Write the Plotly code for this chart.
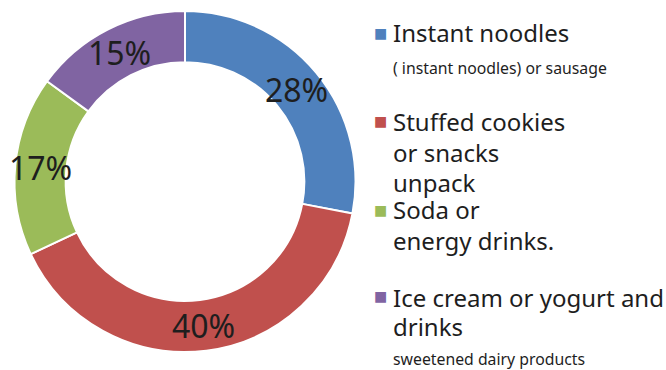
import math
import plotly.graph_objects as go

# ---- data ----
categories = ["Instant noodles", "Stuffed cookies or snacks unpack", "Soda or energy drinks.",
              "Ice cream or yogurt and drinks"]
values = [28, 40, 17, 15]
colors = ["#4F81BD", "#C0504D", "#9BBB59", "#8064A2"]
legend_main = [["Instant noodles"], ["Stuffed cookies", "or snacks", "unpack"],
               ["Soda or", "energy drinks."], ["Ice cream or yogurt and", "drinks"]]
legend_sub = ["( instant noodles) or sausage", None, None, "sweetened dairy products"]

W, H = 666, 370
cx, cy, R = 185.0, 181.5, 170.5
hole = 0.70
FONT = "Noto Sans"

fig = go.Figure()
fig.add_trace(go.Pie(
    labels=categories, values=values, hole=hole, sort=False, direction="clockwise",
    rotation=0, marker=dict(colors=colors, line=dict(color="white", width=2)),
    textinfo="none", showlegend=False, hoverinfo="label+percent",
    domain=dict(x=[(cx - R) / W, (cx + R) / W], y=[(H - cy - R) / H, (H - cy + R) / H]),
))

annotations = []
# percentage labels at ring mid-radius, from data
total = sum(values)
cum = 0.0
rmid = R * (1 + hole) / 2
for v in values:
    a = 2 * math.pi * (cum + v / 2) / total
    cum += v
    px = cx + rmid * math.sin(a)
    py = cy - rmid * math.cos(a)
    annotations.append(dict(x=px / W, y=1 - py / H, xref="paper", yref="paper",
                            text=f"{round(100 * v / total)}%", showarrow=False,
                            font=dict(family=FONT, size=32, color="#1e1e1e"),
                            xanchor="center", yanchor="middle"))

# legend
main_y = [[33], [121, 152, 182], [209, 240], [297, 326]]
sub_y = [68, None, None, 359]
sq_y = [33.5, 120.5, 209.5, 296]
for i in range(len(categories)):
    annotations.append(dict(x=380.5 / W, y=1 - sq_y[i] / H, xref="paper", yref="paper",
                            text="■", showarrow=False, xanchor="center", yanchor="middle",
                            font=dict(family="DejaVu Sans", size=14, color=colors[i])))
    for line, yy in zip(legend_main[i], main_y[i]):
        annotations.append(dict(x=391 / W, y=1 - yy / H, xref="paper", yref="paper",
                                text=line, showarrow=False, xanchor="left", yanchor="middle",
                                font=dict(family=FONT, size=24, color="#1e1e1e")))
    if legend_sub[i]:
        annotations.append(dict(x=391 / W, y=1 - sub_y[i] / H, xref="paper", yref="paper",
                                text=legend_sub[i], showarrow=False, xanchor="left",
                                yanchor="middle",
                                font=dict(family=FONT, size=15.8, color="#1e1e1e")))

fig.update_layout(width=W, height=H, margin=dict(l=0, r=0, t=0, b=0),
                  paper_bgcolor="white", plot_bgcolor="white",
                  annotations=annotations, font=dict(family=FONT))
fig.write_html("out.html")
